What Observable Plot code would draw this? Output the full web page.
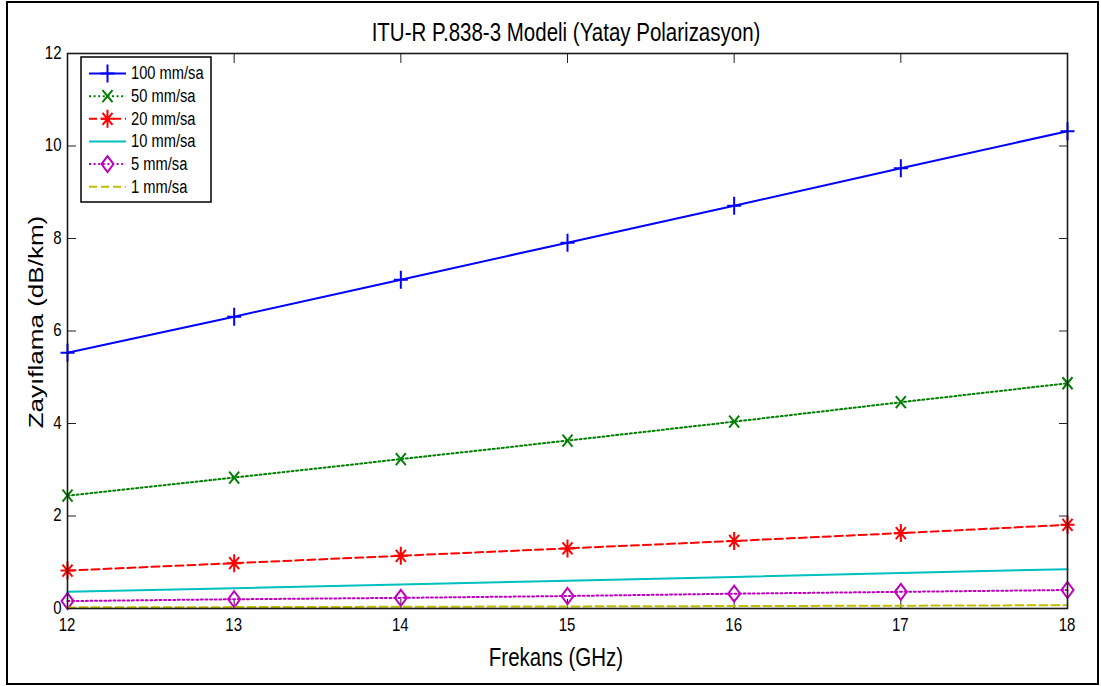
<!DOCTYPE html>
<html><head><meta charset="utf-8">
<script src="https://cdn.jsdelivr.net/npm/d3@7"></script>
<script src="https://cdn.jsdelivr.net/npm/@observablehq/plot@0.6"></script>
<style>
html,body{margin:0;padding:0;background:#fff;}
#wrap{position:relative;width:1101px;height:686px;overflow:hidden;font-family:"Liberation Sans",Arial,sans-serif;background:#fff;}
#frame{position:absolute;left:6px;top:1px;width:1093px;height:684px;border:2px solid #000;box-sizing:border-box;}
#wrap svg{position:absolute;left:0;top:0;}
</style></head><body><div id="wrap"><div id="frame"></div></div>
<script>
// ---- data ----
const freqs = [12, 13, 14, 15, 16, 17, 18];
const r100 = [5.53, 6.31, 7.11, 7.91, 8.71, 9.52, 10.32];
const r50  = [2.44, 2.83, 3.23, 3.63, 4.04, 4.46, 4.87];
const r20  = [0.82, 0.98, 1.14, 1.30, 1.46, 1.63, 1.81];
const r10  = [0.36, 0.44, 0.52, 0.60, 0.68, 0.77, 0.85];
const r5   = [0.16, 0.20, 0.23, 0.27, 0.32, 0.36, 0.40];
const r1   = [0.024, 0.030, 0.037, 0.045, 0.053, 0.061, 0.071];
const seriesNames = ["100 mm/sa", "50 mm/sa", "20 mm/sa", "10 mm/sa", "5 mm/sa", "1 mm/sa"];
const seriesValues = [r100, r50, r20, r10, r5, r1];
const xTicks = [12, 13, 14, 15, 16, 17, 18];
const yTicks = [0, 2, 4, 6, 8, 10, 12];
const titleText = "ITU-R P.838-3 Modeli (Yatay Polarizasyon)";
const xLabel = "Frekans (GHz)";
const yLabel = "Zayıflama (dB/km)";

// ---- styles ----
const colors = ["#0000ff", "#008000", "#ff0000", "#00bfbf", "#bf00bf", "#bfbf00"];
const dashes = [null, "2 2.6", "8 4", null, "2 2.6", "8 4"];
const symPlus = {draw(c){c.moveTo(-7,0);c.lineTo(7,0);c.moveTo(0,-9);c.lineTo(0,9);}};
const symTimes = {draw(c){c.moveTo(-5,-6);c.lineTo(5,6);c.moveTo(-5,6);c.lineTo(5,-6);}};
const symStar = {draw(c){c.moveTo(-7,0);c.lineTo(7,0);c.moveTo(0,-9);c.lineTo(0,9);c.moveTo(-5,-6);c.lineTo(5,6);c.moveTo(-5,6);c.lineTo(5,-6);}};
const symDiamond = {draw(c){c.moveTo(0,-8);c.lineTo(6,0);c.lineTo(0,8);c.lineTo(-6,0);c.closePath();}};
const symbols = [symPlus, symTimes, symStar, null, symDiamond, null];

const rows = [];
seriesNames.forEach((s, i) => freqs.forEach((f, j) => rows.push({f, v: seriesValues[i][j], s})));

const W = 1101, H = 686;
const marks = [
  Plot.axisX(xTicks, {anchor: "bottom", tickSize: -9, tickFormat: () => "", label: null, stroke: "#222"}),
  Plot.axisX(xTicks, {anchor: "top", tickSize: -9, tickFormat: () => "", label: null, stroke: "#222"}),
  Plot.axisY(yTicks, {anchor: "left", tickSize: -9, tickFormat: () => "", label: null, stroke: "#222"}),
  Plot.axisY(yTicks, {anchor: "right", tickSize: -9, tickFormat: () => "", label: null, stroke: "#222"})
];
seriesNames.forEach((s, i) => {
  const data = rows.filter(d => d.s === s);
  marks.push(Plot.line(data, {x: "f", y: "v", stroke: colors[i], strokeWidth: 2, strokeDasharray: dashes[i] || undefined}));
  if (symbols[i]) marks.push(Plot.dot(data, {x: "f", y: "v", symbol: symbols[i], stroke: colors[i], fill: "none", strokeWidth: 2}));
});
marks.push(Plot.frame({stroke: "#1a1a1a", strokeWidth: 1.6}));

const chart = Plot.plot({
  width: W, height: H,
  marginLeft: 67, marginRight: 34, marginTop: 53, marginBottom: 78,
  x: {domain: [12, 18]},
  y: {domain: [0, 12]},
  style: {fontFamily: "'Liberation Sans', Arial, sans-serif", fontSize: "15px", color: "#000", background: "transparent", overflow: "visible"},
  marks
});
document.getElementById("wrap").appendChild(chart);
const sx = chart.scale("x"), sy = chart.scale("y");

// ---- overlay: tick labels, title, axis labels, legend ----
const ov = d3.select("#wrap").append("svg").attr("width", W).attr("height", H)
  .style("font-family", "'Liberation Sans', Arial, sans-serif");
const y0 = sy.apply(0);
xTicks.forEach(t => {
  ov.append("text").attr("transform", `translate(${sx.apply(t)},${y0 + 22.5}) scale(1,1.2)`)
    .attr("text-anchor", "middle").attr("font-size", 15).attr("fill", "#000").text(String(t));
});
const x0 = sx.apply(12);
yTicks.forEach(t => {
  ov.append("text").attr("transform", `translate(${x0 - 5.5},${sy.apply(t) + 5.6}) scale(1,1.2)`)
    .attr("text-anchor", "end").attr("font-size", 15).attr("fill", "#000").text(String(t));
});
ov.append("text").attr("transform", "translate(566,41) scale(1,1.27)").attr("text-anchor", "middle")
  .attr("font-size", 20.5).attr("fill", "#000").text(titleText);
ov.append("text").attr("transform", "translate(556,665.7) scale(1,1.27)").attr("text-anchor", "middle")
  .attr("font-size", 20.5).attr("fill", "#000").text(xLabel);
ov.append("text").attr("transform", "translate(43,322) rotate(-90) scale(1.27,1)").attr("text-anchor", "middle")
  .attr("font-size", 20.5).attr("fill", "#000").text(yLabel);

const lg = ov.append("g");
lg.append("rect").attr("x", 81).attr("y", 57).attr("width", 130).attr("height", 145)
  .attr("fill", "#fff").attr("stroke", "#000").attr("stroke-width", 1.5);
seriesNames.forEach((s, i) => {
  const y = 73.5 + i * 22.65;
  lg.append("line").attr("x1", 89).attr("x2", 126).attr("y1", y).attr("y2", y)
    .attr("stroke", colors[i]).attr("stroke-width", 2).attr("stroke-dasharray", dashes[i]);
  if (symbols[i]) {
    const p = d3.path(); symbols[i].draw(p);
    lg.append("path").attr("d", p.toString()).attr("transform", `translate(107.5,${y})`)
      .attr("fill", "none").attr("stroke", colors[i]).attr("stroke-width", 2);
  }
  lg.append("text").attr("transform", `translate(131,${y + 5.8}) scale(1,1.2)`)
    .attr("font-size", 14.7).attr("fill", "#000").text(s);
});
</script></body></html>
